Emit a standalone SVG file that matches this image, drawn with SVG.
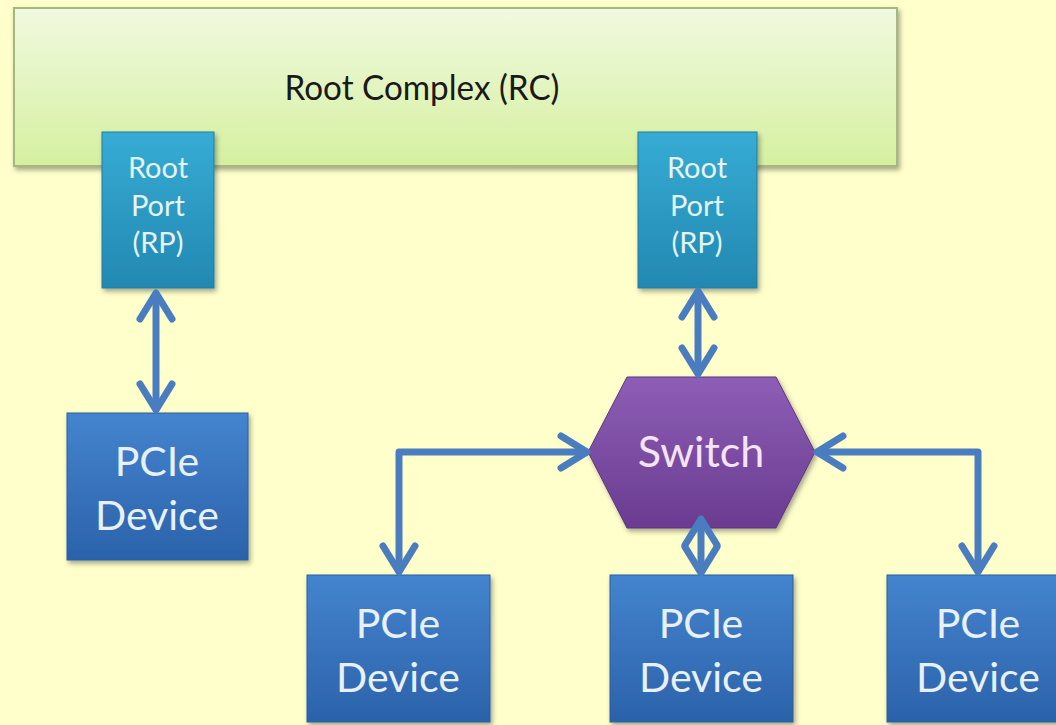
<svg xmlns="http://www.w3.org/2000/svg" width="1056" height="725" viewBox="0 0 1056 725">
<defs>
<linearGradient id="gRC" x1="0" y1="0" x2="0" y2="1"><stop offset="0" stop-color="#F1F9E0"/><stop offset="1" stop-color="#D5F0A0"/></linearGradient>
<linearGradient id="gRP" x1="0" y1="0" x2="0" y2="1"><stop offset="0" stop-color="#36ACD4"/><stop offset="1" stop-color="#2388B2"/></linearGradient>
<linearGradient id="gDev" x1="0" y1="0" x2="0" y2="1"><stop offset="0" stop-color="#4484CE"/><stop offset="1" stop-color="#2B62AA"/></linearGradient>
<linearGradient id="gSw" x1="0" y1="0" x2="0" y2="1"><stop offset="0" stop-color="#8D5EB6"/><stop offset="1" stop-color="#6A3C90"/></linearGradient>
<filter id="sh" x="-10%" y="-10%" width="130%" height="130%"><feDropShadow dx="2" dy="3" stdDeviation="2.5" flood-color="#000" flood-opacity="0.35"/></filter>
<marker id="chev" markerUnits="userSpaceOnUse" markerWidth="40" markerHeight="40" viewBox="-30 -20 40 40" refX="0" refY="0" orient="auto-start-reverse">
<path d="M-26,-16 L0,0 L-26,16" fill="none" stroke="#4A7DC0" stroke-width="7" stroke-linecap="round" stroke-linejoin="round"/>
</marker>
<style>
.conn{fill:none;stroke:#4A7DC0;stroke-width:7;stroke-linejoin:round;marker-start:url(#chev);marker-end:url(#chev)}
.t{font-family:Lato,"Liberation Sans",sans-serif;text-anchor:middle}
.rp{font-size:29px;fill:#E4F4FA}
.dev{font-size:41px;fill:#E8F0FA}
</style>
</defs>
<rect width="1056" height="725" fill="#FFFFCC"/>
<g id="rc">
<rect x="14" y="8" width="883" height="158" fill="url(#gRC)" stroke="#A4B880" stroke-width="2" filter="url(#sh)"/>
<text class="t" x="422" y="100" font-size="35" fill="#1A1A1A" textLength="275" lengthAdjust="spacingAndGlyphs">Root Complex (RC)</text>
</g>
<g id="rp1">
<rect x="102" y="132" width="112" height="156" fill="url(#gRP)" stroke="#1E7CA2" stroke-width="1" filter="url(#sh)"/>
<text class="t rp" x="158" y="178">Root</text>
<text class="t rp" x="158" y="216">Port</text>
<text class="t rp" x="158" y="253">(RP)</text>
</g>
<g id="rp2">
<rect x="638" y="132" width="119" height="156" fill="url(#gRP)" stroke="#1E7CA2" stroke-width="1" filter="url(#sh)"/>
<text class="t rp" x="697" y="178">Root</text>
<text class="t rp" x="697" y="216">Port</text>
<text class="t rp" x="697" y="253">(RP)</text>
</g>
<g id="dev1">
<rect x="67" y="413" width="181" height="147" fill="url(#gDev)" stroke="#2A5E9E" stroke-width="1" filter="url(#sh)"/>
<text class="t dev" x="157" y="476">PCIe</text>
<text class="t dev" x="157" y="530">Device</text>
</g>
<g id="switch">
<polygon points="588,452 627,377 776,377 815,452 776,528 627,528" fill="url(#gSw)" stroke="#5E3484" stroke-width="1" filter="url(#sh)"/>
<text class="t" x="701" y="467" font-size="43" fill="#F4E4F6">Switch</text>
</g>
<g id="dev2">
<rect x="307" y="575" width="183" height="147" fill="url(#gDev)" stroke="#2A5E9E" stroke-width="1" filter="url(#sh)"/>
<text class="t dev" x="398" y="638">PCIe</text>
<text class="t dev" x="398" y="692">Device</text>
</g>
<g id="dev3">
<rect x="610" y="575" width="183" height="147" fill="url(#gDev)" stroke="#2A5E9E" stroke-width="1" filter="url(#sh)"/>
<text class="t dev" x="701" y="638">PCIe</text>
<text class="t dev" x="701" y="692">Device</text>
</g>
<g id="dev4">
<rect x="887" y="575" width="183" height="147" fill="url(#gDev)" stroke="#2A5E9E" stroke-width="1" filter="url(#sh)"/>
<text class="t dev" x="978" y="638">PCIe</text>
<text class="t dev" x="978" y="692">Device</text>
</g>
<g id="connectors">
<path class="conn" d="M156,293 L156,410"/>
<path class="conn" d="M698,291 L698,374"/>
<path class="conn" d="M587,452 L399,452 L399,572"/>
<path class="conn" d="M817,452 L978,452 L978,572"/>
<path class="conn" d="M701,519 L701,573"/>
</g>
</svg>
